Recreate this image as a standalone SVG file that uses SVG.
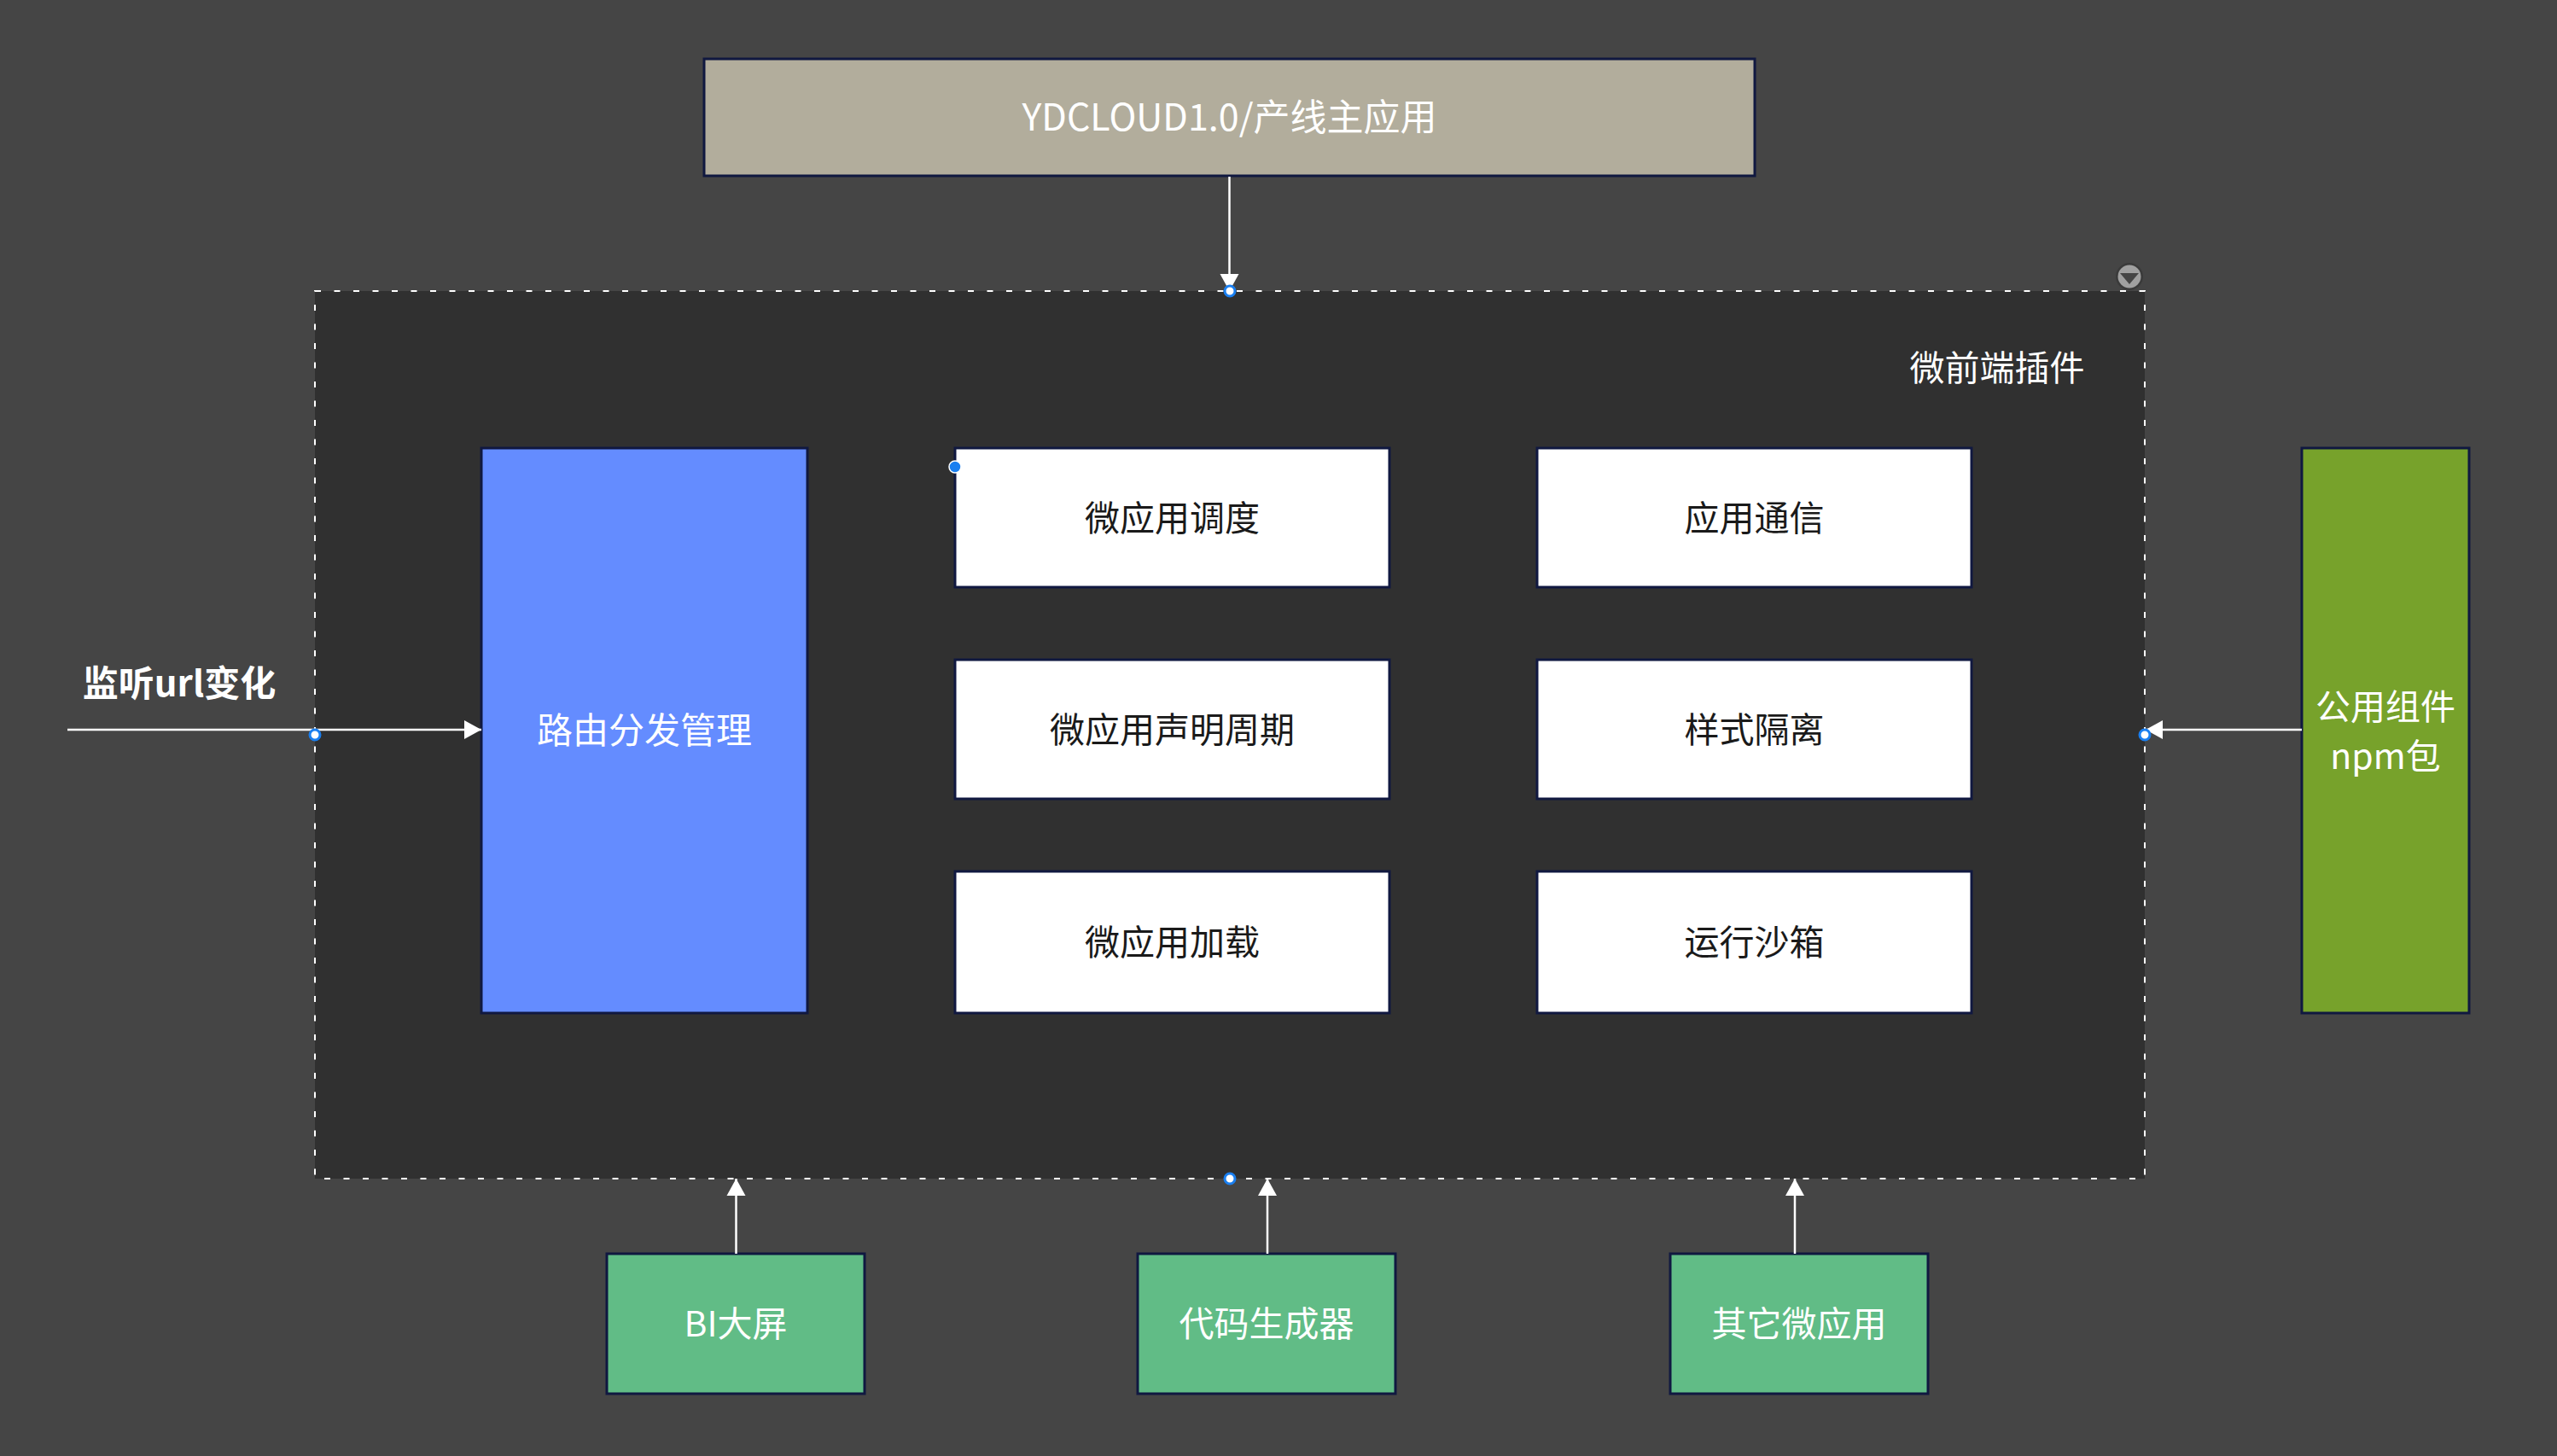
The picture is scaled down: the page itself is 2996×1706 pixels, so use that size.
<svg xmlns="http://www.w3.org/2000/svg" width="2996" height="1706" viewBox="0 0 2996 1706">
<defs>
<style>
.t{font-family:"Noto Sans CJK SC","Noto Sans",sans-serif;text-anchor:middle;dominant-baseline:central}
.w{fill:#ffffff}
.k{fill:#1a1a1a}
.box{stroke:#101840;stroke-width:3}
.con{stroke:#ffffff;stroke-width:2.5;fill:none}
.dot{fill:#ffffff;stroke:#1a7ff0;stroke-width:3}
</style>
<marker id="ah" markerUnits="userSpaceOnUse" markerWidth="22" markerHeight="24" refX="20" refY="12" orient="auto">
<path d="M0,1 L20,12 L0,23 Z" fill="#ffffff"/>
</marker>
</defs>
<rect x="0" y="0" width="2996" height="1706" fill="#454545"/>

<g id="container">
<rect x="369" y="341" width="2144" height="1040" fill="#303030" stroke="#ffffff" stroke-width="2" stroke-dasharray="7 15.5"/>
<text class="t w" x="2340" y="428" font-size="41">微前端插件</text>
<circle cx="2495" cy="324" r="16" fill="#3a3a3a"/>
<circle cx="2495" cy="324" r="13.5" fill="#a0a0a0"/>
<path d="M2484,320 L2506,320 L2495,333 Z" fill="#454545"/>
</g>

<g id="main-app">
<rect class="box" x="825" y="69" width="1231" height="137" fill="#b2ad9c"/>
<text class="t w" x="1440.5" y="134" font-size="43">YDCLOUD1.0/产线主应用</text>
</g>

<g id="router">
<rect class="box" x="564" y="525" width="382" height="662" fill="#648cff"/>
<text class="t w" x="755" y="852" font-size="42">路由分发管理</text>
</g>

<g id="schedule">
<rect class="box" x="1119" y="525" width="509" height="163" fill="#ffffff"/>
<text class="t k" x="1373.5" y="604" font-size="41">微应用调度</text>
</g>
<g id="comm">
<rect class="box" x="1801" y="525" width="509" height="163" fill="#ffffff"/>
<text class="t k" x="2055.5" y="604" font-size="41">应用通信</text>
</g>
<g id="lifecycle">
<rect class="box" x="1119" y="773" width="509" height="163" fill="#ffffff"/>
<text class="t k" x="1373.5" y="852" font-size="41">微应用声明周期</text>
</g>
<g id="style-iso">
<rect class="box" x="1801" y="773" width="509" height="163" fill="#ffffff"/>
<text class="t k" x="2055.5" y="852" font-size="41">样式隔离</text>
</g>
<g id="load">
<rect class="box" x="1119" y="1021" width="509" height="166" fill="#ffffff"/>
<text class="t k" x="1373.5" y="1101" font-size="41">微应用加载</text>
</g>
<g id="sandbox">
<rect class="box" x="1801" y="1021" width="509" height="166" fill="#ffffff"/>
<text class="t k" x="2055.5" y="1101" font-size="41">运行沙箱</text>
</g>

<g id="npm">
<rect class="box" x="2697" y="525" width="196" height="662" fill="#77a22b"/>
<text class="t w" x="2795" y="825" font-size="41">公用组件</text>
<text class="t w" x="2795" y="883" font-size="41">npm包</text>
</g>

<g id="bi">
<rect class="box" x="711" y="1469" width="302" height="164" fill="#61bc86"/>
<text class="t w" x="862" y="1548" font-size="41">BI大屏</text>
</g>
<g id="codegen">
<rect class="box" x="1333" y="1469" width="302" height="164" fill="#61bc86"/>
<text class="t w" x="1484" y="1548" font-size="41">代码生成器</text>
</g>
<g id="other">
<rect class="box" x="1957" y="1469" width="302" height="164" fill="#61bc86"/>
<text class="t w" x="2108" y="1548" font-size="41">其它微应用</text>
</g>

<g id="listen-label">
<text class="t w" x="210" y="797" font-size="42" font-weight="bold">监听url变化</text>
</g>

<g id="connectors">
<line class="con" x1="1440.5" y1="207" x2="1440.5" y2="341" marker-end="url(#ah)"/>
<line class="con" x1="79" y1="855" x2="564" y2="855" marker-end="url(#ah)"/>
<line class="con" x1="2697" y1="855" x2="2514" y2="855" marker-end="url(#ah)"/>
<line class="con" x1="862.5" y1="1469" x2="862.5" y2="1381" marker-end="url(#ah)"/>
<line class="con" x1="1485" y1="1469" x2="1485" y2="1381" marker-end="url(#ah)"/>
<line class="con" x1="2103" y1="1469" x2="2103" y2="1381" marker-end="url(#ah)"/>
<circle class="dot" cx="1441" cy="341" r="6"/>
<circle class="dot" cx="1441" cy="1381" r="6"/>
<circle class="dot" cx="369" cy="861" r="6"/>
<circle class="dot" cx="2513" cy="861" r="6"/>
<circle cx="1119" cy="547" r="7" fill="#1a7ff0" stroke="#ffffff" stroke-width="1.5"/>
</g>
</svg>
